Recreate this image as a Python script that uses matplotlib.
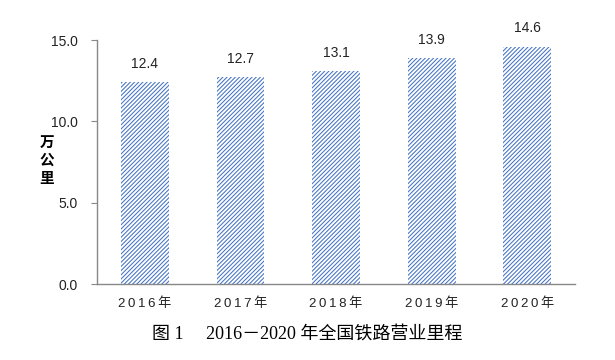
import matplotlib
matplotlib.use('Agg')
import matplotlib.pyplot as plt

years = ['2016年', '2017年', '2018年', '2019年', '2020年']
mileage = [12.4, 12.7, 13.1, 13.9, 14.6]
y_ticks = [0.0, 5.0, 10.0, 15.0]
title = '图 1\u3000 2016－2020 年全国铁路营业里程'

plt.rcParams['font.family'] = ['Liberation Sans', 'Noto Sans CJK SC']
plt.rcParams['hatch.linewidth'] = 0.75
plt.rcParams['hatch.color'] = '#4472C4'

fig = plt.figure(figsize=(6.15, 3.6), dpi=100)
ax = fig.add_axes([97 / 615, 1 - 284 / 360, 478 / 615, 244 / 360])

x = range(len(years))
bars = ax.bar(x, mileage, width=0.5, color='white', edgecolor='#4472C4',
              linewidth=0, hatch='////////')
for xi, v in zip(x, mileage):
    ax.annotate(f'{v:.1f}', (xi, v), xytext=(0, 8), textcoords='offset points',
                ha='center', va='bottom', fontsize=10, color='#222222')

# spread the year labels a little, like the original
spaced = ['\u2009'.join(y) for y in years]

ax.set_xlim(-0.5, len(years) - 0.5)
ax.set_ylim(0, 15)
ax.set_yticks(y_ticks)
ax.set_yticklabels([f'{t:.1f}' for t in y_ticks], fontsize=10, color='#222222')
ax.set_xticks(list(x))
ax.set_xticklabels(spaced, fontsize=9.5, color='#222222')
ax.tick_params(axis='x', length=0, pad=10)
ax.tick_params(axis='y', length=4, color='#888888', pad=10)

for side in ['top', 'right']:
    ax.spines[side].set_visible(False)
for side in ['left', 'bottom']:
    ax.spines[side].set_color('#888888')
    ax.spines[side].set_linewidth(1.0)

fig.text(47 / 615, 1 - 160 / 360, '万\n公\n里', ha='center', va='center',
         fontsize=10.5, fontweight='bold', linespacing=1.15,
         family=['Noto Sans CJK SC'])

fig.text(0.5, 1 - 334 / 360, title, ha='center', va='center', fontsize=13,
         family=['Liberation Serif', 'Noto Sans CJK SC'])

fig.savefig('out.png', dpi=100)
